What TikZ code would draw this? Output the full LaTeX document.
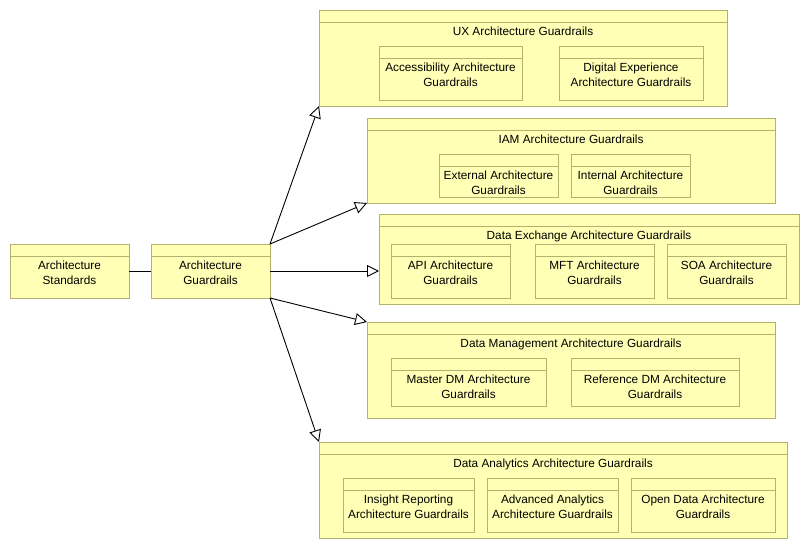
\documentclass[tikz,border=0pt]{standalone}
\usepackage{fontspec}
\setmainfont{Liberation Sans}
\usetikzlibrary{arrows.meta}
\definecolor{boxfill}{HTML}{FFFFB5}
\definecolor{boxline}{HTML}{B3B36B}
\tikzset{
  gbox/.style={draw=boxline, fill=boxfill, line width=0.9pt, rectangle, inner sep=0pt, outer sep=0pt, anchor=north west},
  gtext/.style={anchor=north, inner sep=0pt, align=center, font=\fontsize{11.8}{15}\selectfont},
  rel/.style={draw=black, line width=0.9pt},
  spec/.style={rel, -{Triangle[open, length=12pt, width=12pt, fill=white]}},
}
\newcommand\gb[6]{%
  \node[gbox, minimum width={#4-#2}, minimum height={#5-#3}] (#1) at (#2,#3) {};
  \draw[boxline, line width=0.9pt] (#2,#3+12) -- (#4,#3+12);
  \node[gtext] (#1-t) at ({(#2+#4)/2},#3+16.5) {#6};
}
\begin{document}
\begin{tikzpicture}[x=1pt, y=-1pt]
\useasboundingbox (0,0) rectangle (810,549);
% left boxes
\gb{as}{10}{244}{129}{298}{Architecture\\Standards}
\gb{ag}{151}{244}{270}{298}{Architecture\\Guardrails}
% UX
\gb{ux}{319}{10}{727}{106}{UX Architecture Guardrails}
\gb{acc}{379}{46}{522}{100}{Accessibility Architecture\\Guardrails}
\gb{dig}{559}{46}{703}{100}{Digital Experience\\Architecture Guardrails}
% IAM
\gb{iam}{367}{118}{775}{203}{IAM Architecture Guardrails}
\gb{ext}{439}{154}{558}{197}{External Architecture\\Guardrails}
\gb{int}{571}{154}{690}{197}{Internal Architecture\\Guardrails}
% Data Exchange
\gb{dx}{379}{214}{799}{304}{Data Exchange Architecture Guardrails}
\gb{api}{391}{244}{510}{298}{API Architecture\\Guardrails}
\gb{mft}{535}{244}{654}{298}{MFT Architecture\\Guardrails}
\gb{soa}{667}{244}{786}{298}{SOA Architecture\\Guardrails}
% Data Management
\gb{dm}{367}{322}{775}{418}{Data Management Architecture Guardrails}
\gb{mdm}{391}{358}{546}{406}{Master DM Architecture\\Guardrails}
\gb{rdm}{571}{358}{739}{406}{Reference DM Architecture\\Guardrails}
% Data Analytics
\gb{da}{319}{442}{787}{538}{Data Analytics Architecture Guardrails}
\gb{ins}{343}{478}{474}{532}{Insight Reporting\\Architecture Guardrails}
\gb{adv}{487}{478}{618}{532}{Advanced Analytics\\Architecture Guardrails}
\gb{odg}{631}{478}{775}{532}{Open Data Architecture\\Guardrails}
% connectors
\draw[rel] (as.east) -- (ag.west);
\draw[spec] (ag.north east) -- (ux.south west);
\draw[spec] (ag.north east) -- (iam.south west);
\draw[spec] (ag.east) -- (ag.east -| dx.west);
\draw[spec] (ag.south east) -- (dm.north west);
\draw[spec] (ag.south east) -- (da.north west);
\end{tikzpicture}
\end{document}
